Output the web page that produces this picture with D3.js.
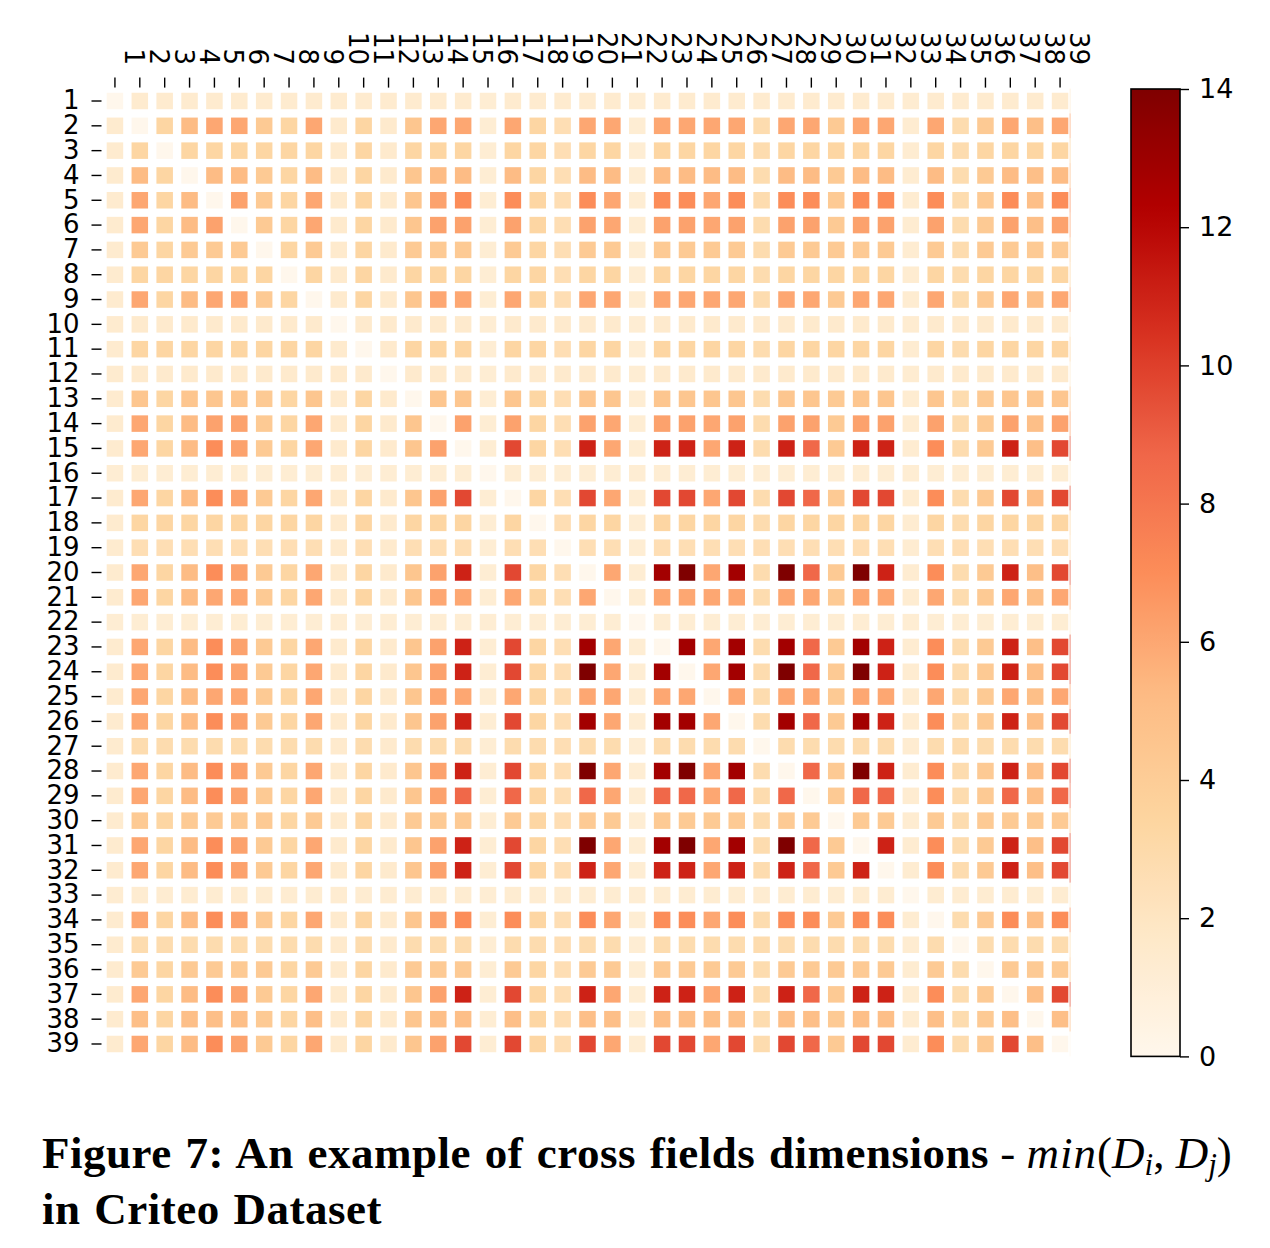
<!DOCTYPE html>
<html><head><meta charset="utf-8">
<script src="https://cdn.jsdelivr.net/npm/d3@7"></script>
<style>body{margin:0;background:#fff;} svg{display:block}</style>
</head><body>
<svg id="chart" width="1270" height="1248"></svg>
<script>
// Field labels (Criteo fields 1..39)
const fieldLabels = ["1","2","3","4","5","6","7","8","9","10","11","12","13","14","15","16","17","18","19","20",
  "21","22","23","24","25","26","27","28","29","30","31","32","33","34","35","36","37","38","39"];
// Estimated per-field dimension D_i (cell value = min(D_i, D_j), diagonal = 0)
const fieldDims = [1.4, 6, 3.3, 5.2, 7, 6.2, 4.2, 3.3, 6, 1.5,
  3.3, 1.5, 4.5, 6.2, 11, 1.2, 9.7, 3.3, 2.6, 14,
  6, 1.2, 12.8, 14, 6, 12.8, 2.8, 14, 8.6, 4.2,
  14, 11, 1.3, 7, 2.8, 4.2, 11, 5, 9.7];
const colorStops = ["#fff7ec","#fee8c8","#fdd49e","#fdbb84","#fc8d59","#ef6548","#d7301f","#b30000","#7f0000"];
const colorbarTicks = [0, 2, 4, 6, 8, 10, 12, 14];
const valueMax = 14;

(function () {
const svg = d3.select("#chart");
const pL = 102.5, pR = 1072.5, pT = 88.6, pB = 1056.4;

const x = d3.scaleBand().domain(fieldLabels).range([pL, pR]);
const y = d3.scaleBand().domain(fieldLabels).range([pT, pB]);
const color = d3.scaleLinear()
  .domain(colorStops.map((c, i) => i * valueMax / (colorStops.length - 1)))
  .range(colorStops).clamp(true);

const cells = [];
fieldLabels.forEach((ri, i) => fieldLabels.forEach((cj, j) => {
  cells.push({row: ri, col: cj, v: i === j ? 0 : Math.min(fieldDims[i], fieldDims[j])});
}));

const cs = 16.5;
svg.append("g").selectAll("rect").data(cells).join("rect")
  .attr("x", d => x(d.col) + x.bandwidth() / 2 - cs / 2)
  .attr("y", d => y(d.row) + y.bandwidth() / 2 - cs / 2)
  .attr("width", cs).attr("height", cs)
  .attr("fill", d => color(d.v));

// faint sliver at right edge of the heatmap
svg.append("g").selectAll("rect").data(cells.filter(d => d.col === "39")).join("rect")
  .attr("x", pR - 3).attr("width", 1.2)
  .attr("y", d => y(d.row)).attr("height", y.bandwidth())
  .attr("fill", d => color(d.v)).attr("opacity", 0.55);

const font = "DejaVu Sans, sans-serif";
// Y axis
const yAxis = d3.axisLeft(y).tickSize(10).tickPadding(12);
const gy = svg.append("g").attr("transform", `translate(${pL - 1},0)`).call(yAxis);
gy.select(".domain").remove();
gy.selectAll("line").attr("stroke", "#000").attr("stroke-width", 1.4);
gy.selectAll("text").attr("font-family", font).attr("font-size", 26).attr("fill", "#000");

// X axis (top)
const xAxis = d3.axisTop(x).tickSize(10).tickFormat("");
const gx = svg.append("g").attr("transform", `translate(0,${pT - 1})`).call(xAxis);
gx.select(".domain").remove();
gx.selectAll("line").attr("stroke", "#000").attr("stroke-width", 1.4);
svg.append("g").selectAll("text").data(fieldLabels).join("text")
  .attr("transform", d => `translate(${x(d) + x.bandwidth() / 2 + 10},65) rotate(90)`)
  .attr("text-anchor", "end")
  .attr("font-family", font).attr("font-size", 26).attr("fill", "#000")
  .text(d => d);

// Colorbar
const cbX = 1131, cbW = 49;
const cbScale = d3.scaleLinear().domain([0, valueMax]).range([pB, pT + 0.4]);
const defs = svg.append("defs");
const grad = defs.append("linearGradient").attr("id", "cbgrad")
  .attr("x1", 0).attr("y1", 1).attr("x2", 0).attr("y2", 0);
grad.selectAll("stop").data(d3.range(0, 1.0001, 0.02)).join("stop")
  .attr("offset", t => t).attr("stop-color", t => color(t * valueMax));
svg.append("rect").attr("x", cbX).attr("y", cbScale(valueMax))
  .attr("width", cbW).attr("height", cbScale(0) - cbScale(valueMax))
  .attr("fill", "url(#cbgrad)").attr("stroke", "#000").attr("stroke-width", 1.6);
const cbAxis = d3.axisRight(cbScale).tickValues(colorbarTicks).tickSize(9).tickPadding(10);
const gcb = svg.append("g").attr("transform", `translate(${cbX + cbW},0)`).call(cbAxis);
gcb.select(".domain").remove();
gcb.selectAll("line").attr("stroke", "#000").attr("stroke-width", 1.4);
gcb.selectAll("text").attr("font-family", font).attr("font-size", 27).attr("fill", "#000");

// Caption
const serif = "Liberation Serif, Times New Roman, serif";
const cap = svg.append("text").attr("x", 42).attr("y", 1168)
  .attr("font-family", serif).attr("font-size", 45).attr("fill", "#000");
cap.append("tspan").attr("font-weight", "bold").attr("word-spacing", 2).attr("letter-spacing", 0.5)
  .text("Figure 7: An example of cross fields dimensions");
cap.append("tspan").text(" - ");
cap.append("tspan").attr("font-style", "italic").attr("letter-spacing", 1).text("min");
cap.append("tspan").text("(");
cap.append("tspan").attr("font-style", "italic").text("D");
cap.append("tspan").attr("font-style", "italic").attr("font-size", 31).attr("dy", 7).text("i");
cap.append("tspan").attr("dy", -7).text(", ");
cap.append("tspan").attr("font-style", "italic").text("D");
cap.append("tspan").attr("font-style", "italic").attr("font-size", 31).attr("dy", 7).text("j");
cap.append("tspan").attr("dy", -7).text(")");
svg.append("text").attr("x", 42).attr("y", 1224)
  .attr("font-family", serif).attr("font-size", 45).attr("font-weight", "bold").attr("fill", "#000")
  .attr("word-spacing", 2).attr("letter-spacing", 0.5)
  .text("in Criteo Dataset");
})();
</script>
</body></html>
